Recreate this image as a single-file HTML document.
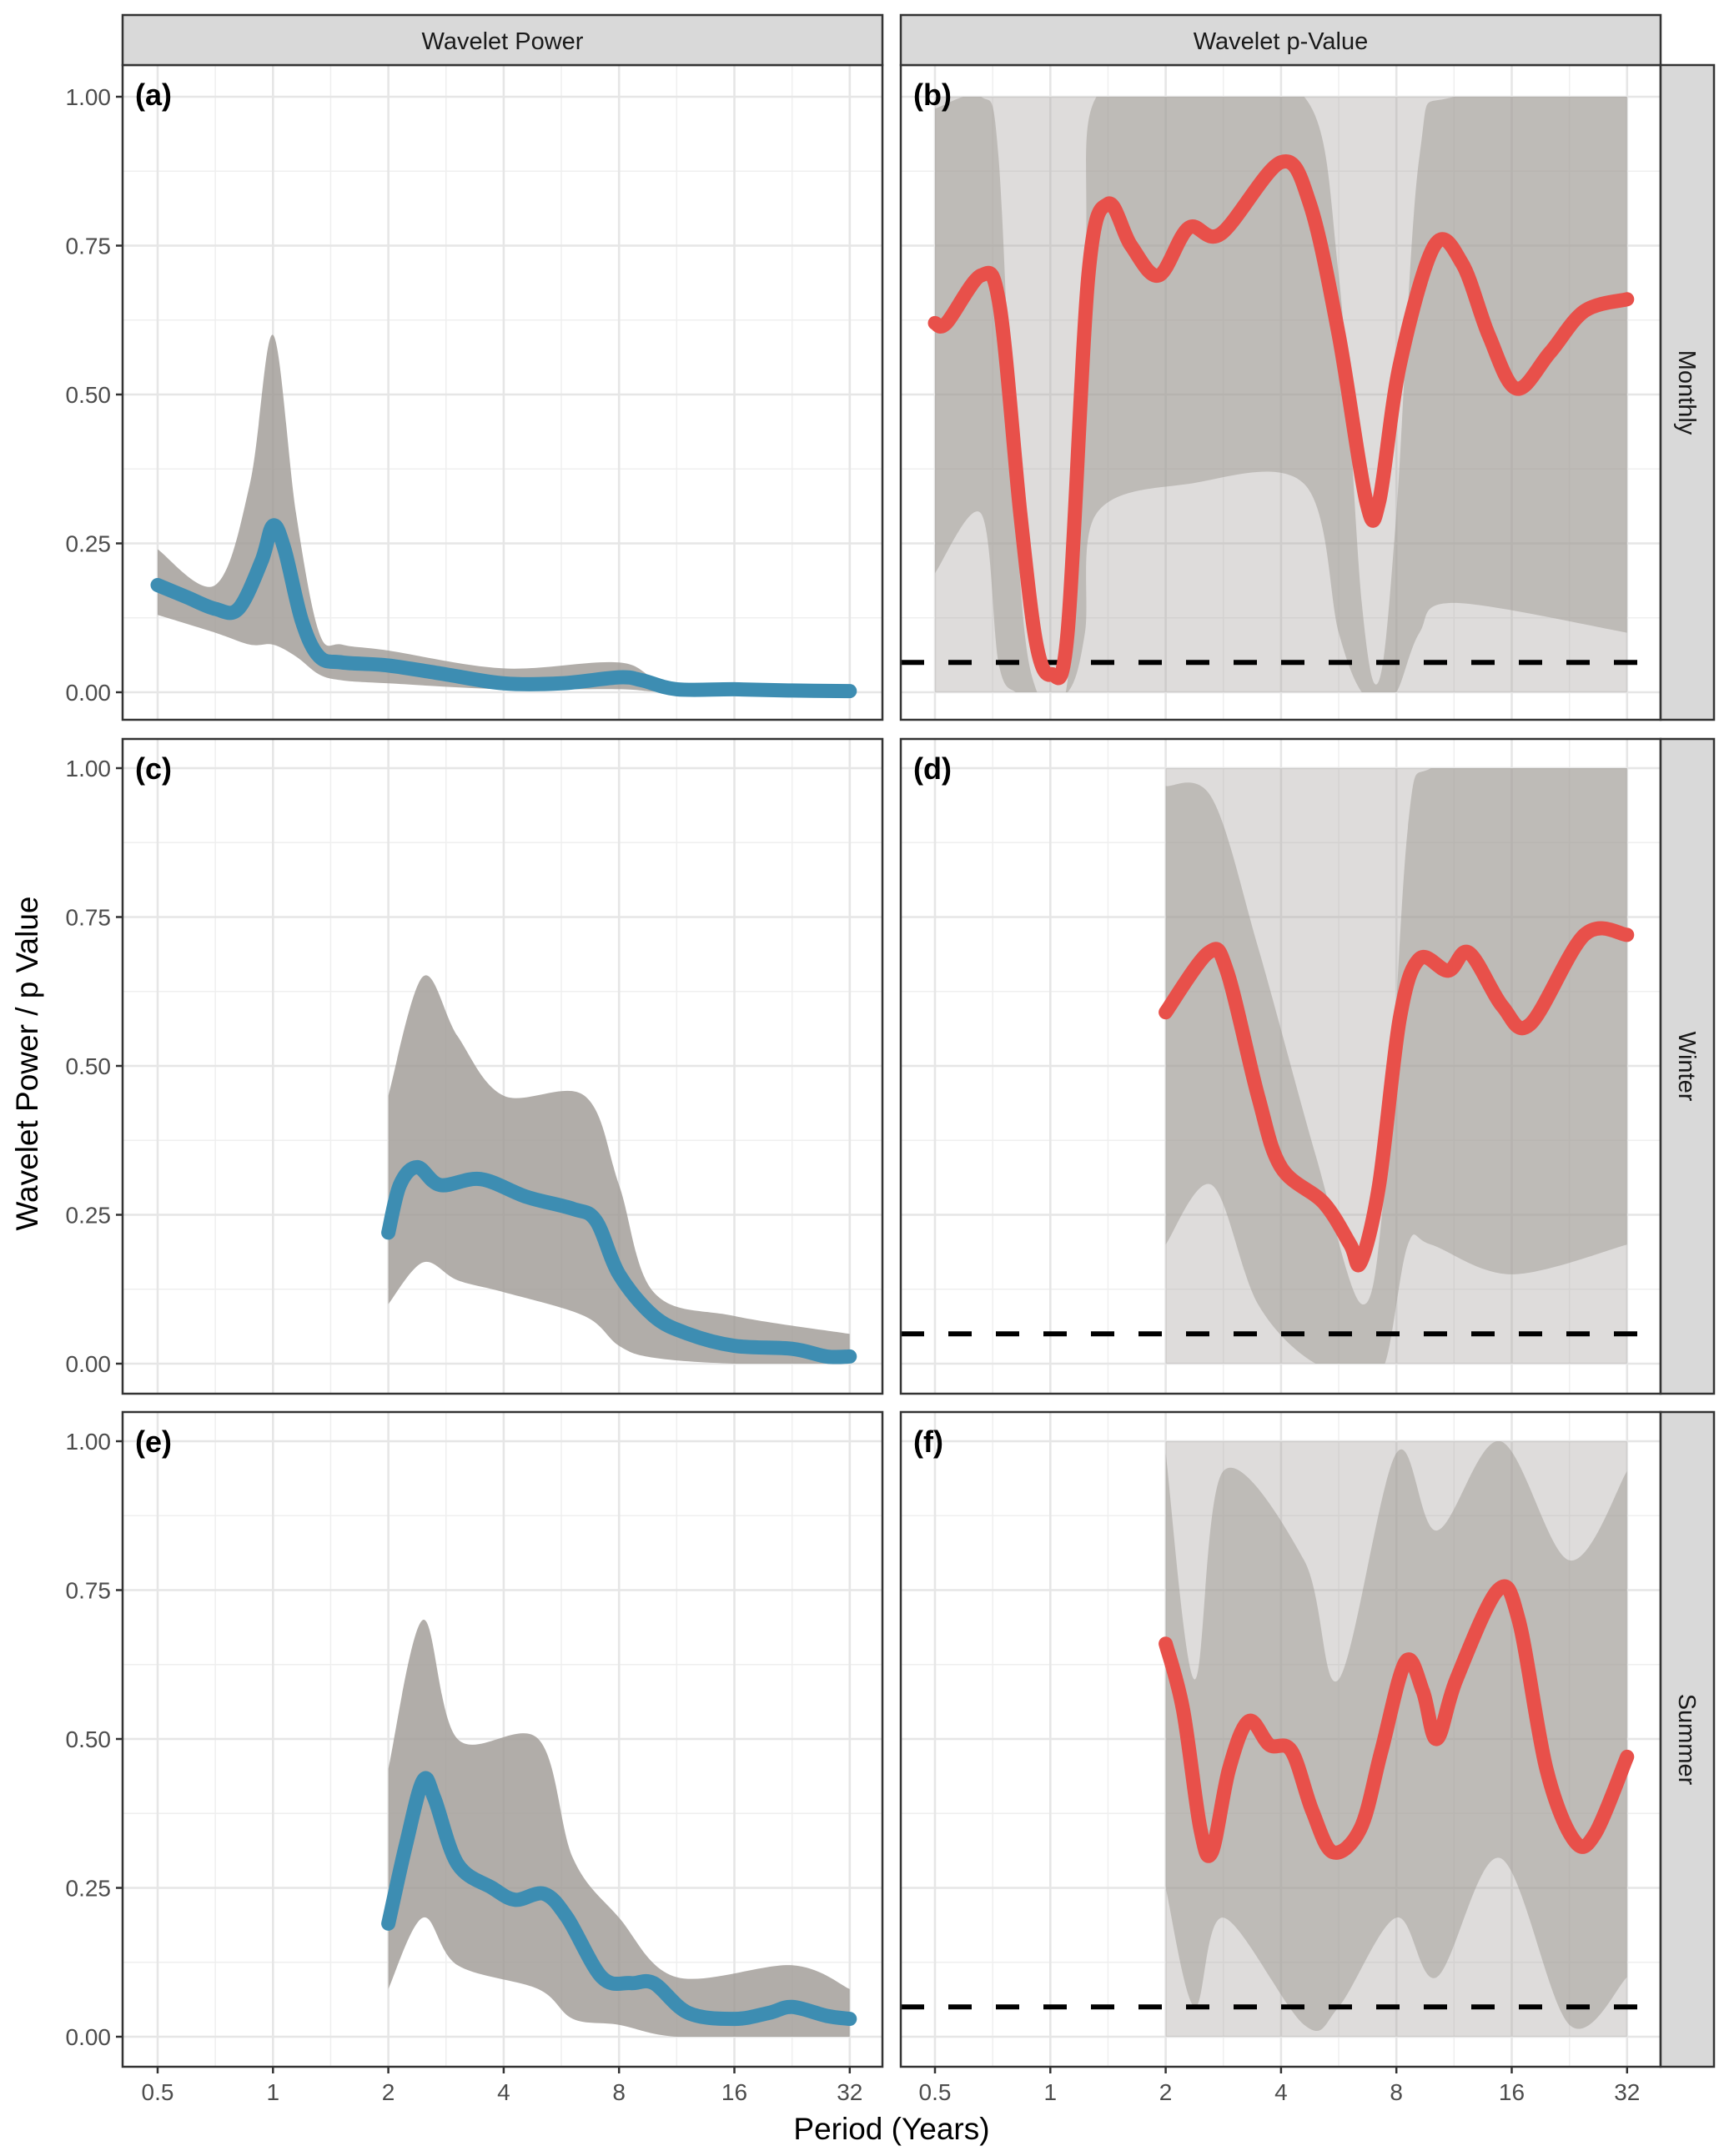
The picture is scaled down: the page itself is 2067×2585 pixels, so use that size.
<!DOCTYPE html>
<html><head><meta charset="utf-8"><style>
html,body{margin:0;padding:0;background:#fff}
svg{display:block}
text{font-family:"Liberation Sans",Arial,sans-serif}
</style></head><body>
<svg id="chart" xmlns="http://www.w3.org/2000/svg" width="2067" height="2585" viewBox="0 0 2067 2585">
<rect width="2067" height="2585" fill="#fff"/>
</svg>
<script>
// ---- data (x in log2 years) ----
const xTickLabels = ["0.5","1","2","4","8","16","32"];
const yTickLabels = ["0.00","0.25","0.50","0.75","1.00"];
const colTitles = ["Wavelet Power","Wavelet p-Value"];
const rowTitles = ["Monthly","Winter","Summer"];
const panelLabels = ["(a)","(b)","(c)","(d)","(e)","(f)"];
const sigLevel = 0.05;

const aX = [-1,-0.75,-0.5,-0.3,-0.1,0,0.1,0.25,0.4,0.6,1,1.5,2,2.5,3,3.2,3.5,4,4.5,5];
const aY = [0.18,0.16,0.14,0.14,0.22,0.28,0.24,0.12,0.06,0.05,0.045,0.03,0.015,0.015,0.025,0.02,0.005,0.005,0.003,0.002];
const bX = [-1,-0.9,-0.6,-0.44,-0.26,-0.12,0.01,0.15,0.33,0.5,0.7,0.94,1.2,1.48,2,2.25,2.5,2.74,2.85,3.03,3.33,3.57,3.8,4.04,4.33,4.63,5];
const bY = [0.62,0.62,0.70,0.65,0.30,0.08,0.03,0.10,0.70,0.82,0.75,0.70,0.78,0.77,0.89,0.82,0.60,0.32,0.32,0.55,0.75,0.72,0.60,0.51,0.57,0.64,0.66];
const cX = [1,1.1,1.25,1.45,1.8,2.2,2.6,2.8,3.0,3.3,3.6,4,4.5,4.8,5];
const cY = [0.22,0.30,0.33,0.30,0.31,0.28,0.26,0.24,0.15,0.08,0.05,0.03,0.025,0.012,0.012];
const dX = [1,1.37,1.53,1.8,2,2.37,2.6,2.69,2.85,3.03,3.2,3.45,3.63,3.92,4.16,4.63,5];
const dY = [0.59,0.69,0.66,0.45,0.33,0.27,0.20,0.17,0.30,0.58,0.68,0.66,0.69,0.60,0.57,0.72,0.72];
const eX = [1,1.15,1.3,1.4,1.6,1.9,2.1,2.35,2.55,2.85,3.1,3.3,3.6,4,4.3,4.5,4.8,5];
const eY = [0.19,0.32,0.43,0.40,0.29,0.25,0.23,0.24,0.20,0.10,0.09,0.09,0.04,0.03,0.04,0.05,0.035,0.03];
const fX = [1,1.15,1.3,1.4,1.55,1.72,1.9,2.09,2.27,2.45,2.69,2.87,3.08,3.23,3.35,3.52,3.88,4.06,4.3,4.54,4.72,5];
const fY = [0.66,0.55,0.35,0.31,0.45,0.53,0.49,0.48,0.38,0.31,0.35,0.48,0.63,0.58,0.50,0.60,0.75,0.70,0.45,0.33,0.34,0.47];

// ensemble envelopes (dense core of simulated curves)
const aEnvX = [-1,-0.5,-0.2,0,0.2,0.4,0.6,1,2,3,3.5,5];
const aHi = [0.24,0.18,0.35,0.6,0.3,0.1,0.08,0.07,0.04,0.05,0.015,0.01];
const aLo = [0.13,0.1,0.08,0.08,0.06,0.03,0.02,0.015,0.005,0.005,0,0];
const bEnvX = [-1,-0.6,-0.45,-0.3,-0.15,0.15,0.3,0.4,1.2,2.2,2.5,2.7,2.85,3.0,3.2,3.5,5];
const bHi = [0.98,1,0.9,0.3,0.02,0.02,0.7,1,1,1,0.7,0.15,0.02,0.3,0.9,1,1];
const bLo = [0.2,0.3,0.05,0,0,0,0.1,0.3,0.35,0.35,0.1,0,0,0,0.1,0.15,0.1];
const cEnvX = [1,1.3,1.6,2,2.7,3.0,3.3,4,5];
const cHi = [0.45,0.65,0.55,0.45,0.45,0.3,0.12,0.08,0.05];
const cLo = [0.1,0.17,0.14,0.12,0.08,0.03,0.01,0,0];
const dEnvX = [1,1.4,1.8,2.3,2.7,2.9,3.1,3.3,4,5];
const dHi = [0.97,0.95,0.7,0.35,0.1,0.3,0.9,1,1,1];
const dLo = [0.2,0.3,0.1,0,0,0,0.2,0.2,0.15,0.2];
const eEnvX = [1,1.3,1.6,2.3,2.6,3,3.5,4.5,5];
const eHi = [0.45,0.7,0.5,0.5,0.3,0.2,0.1,0.12,0.08];
const eLo = [0.08,0.2,0.12,0.08,0.03,0.02,0,0,0];
const fEnvX = [1,1.25,1.5,2.2,2.5,3,3.35,3.9,4.5,5];
const fHi = [0.98,0.6,0.95,0.8,0.6,0.98,0.85,1,0.8,0.95];
const fLo = [0.25,0.05,0.2,0.02,0.05,0.2,0.1,0.3,0.02,0.1];

const NS = "http://www.w3.org/2000/svg";
const svg = document.getElementById("chart");
function mk(tag, attrs, parent){ const e=document.createElementNS(NS,tag); for(const k in attrs) e.setAttribute(k,attrs[k]); (parent||svg).appendChild(e); return e; }

const colL = [147,1080], colW = 911;
const rowT = [78,886,1693], rowH = 785;
const yTop = [116,921,1728], yBot = [830,1635,2442];
const x0 = [189,1121], oct = 138.3;

function smooth(pts){
  let d = "M"+pts[0][0]+","+pts[0][1];
  for(let i=0;i<pts.length-1;i++){
    const p0=pts[Math.max(0,i-1)],p1=pts[i],p2=pts[i+1],p3=pts[Math.min(pts.length-1,i+2)];
    const c1=[p1[0]+(p2[0]-p0[0])/6,p1[1]+(p2[1]-p0[1])/6];
    const c2=[p2[0]-(p3[0]-p1[0])/6,p2[1]-(p3[1]-p1[1])/6];
    d+=" C"+c1[0].toFixed(1)+","+c1[1].toFixed(1)+" "+c2[0].toFixed(1)+","+c2[1].toFixed(1)+" "+p2[0].toFixed(1)+","+p2[1].toFixed(1);
  }
  return d;
}

const defs = mk("defs",{});
const panels = [
  {r:0,c:0,x:aX,y:aY,ex:aEnvX,hi:aHi,lo:aLo,col:"#3d8db2",name:"power-monthly",light:false},
  {r:0,c:1,x:bX,y:bY,ex:bEnvX,hi:bHi,lo:bLo,col:"#e8504a",name:"pvalue-monthly",light:true,lx:[-1,5]},
  {r:1,c:0,x:cX,y:cY,ex:cEnvX,hi:cHi,lo:cLo,col:"#3d8db2",name:"power-winter",light:false},
  {r:1,c:1,x:dX,y:dY,ex:dEnvX,hi:dHi,lo:dLo,col:"#e8504a",name:"pvalue-winter",light:true,lx:[1,5]},
  {r:2,c:0,x:eX,y:eY,ex:eEnvX,hi:eHi,lo:eLo,col:"#3d8db2",name:"power-summer",light:false},
  {r:2,c:1,x:fX,y:fY,ex:fEnvX,hi:fHi,lo:fLo,col:"#e8504a",name:"pvalue-summer",light:true,lx:[1,5]},
];

panels.forEach((p,i)=>{
  const L=colL[p.c], T=rowT[p.r];
  const sx = v => x0[p.c] + (v+1)*oct;
  const sy = v => yBot[p.r] - v*(yBot[p.r]-yTop[p.r]);
  const cp = mk("clipPath",{id:"clip"+i},defs);
  mk("rect",{x:sx(p.ex[0]),y:sy(1),width:sx(p.ex[p.ex.length-1])-sx(p.ex[0]),height:sy(0)-sy(1)},cp);
  const g = mk("g",{});
  
  
  for(let k=0;k<4;k++){ const v=0.125+0.25*k; mk("line",{x1:L,x2:L+colW,y1:sy(v),y2:sy(v),stroke:"#efefef","stroke-width":1.5},g); }
  for(let k=0;k<6;k++){ const v=-0.5+k; mk("line",{x1:sx(v),x2:sx(v),y1:T,y2:T+rowH,stroke:"#efefef","stroke-width":1.5},g); }
  yTickLabels.forEach((t,k)=>{ mk("line",{x1:L,x2:L+colW,y1:sy(k*0.25),y2:sy(k*0.25),stroke:"#e6e6e6","stroke-width":2.6},g); });
  xTickLabels.forEach((t,k)=>{ mk("line",{x1:sx(k-1),x2:sx(k-1),y1:T,y2:T+rowH,stroke:"#e6e6e6","stroke-width":2.6},g); });
  if(p.light){
    const lr = mk("rect",{x:sx(p.lx[0]),y:sy(1),width:sx(p.lx[1])-sx(p.lx[0]),height:sy(0)-sy(1),fill:"#a8a4a0","fill-opacity":0.38},g);
    
    
  }
  const up = p.ex.map((v,k)=>[sx(v),sy(p.hi[k])]);
  const dn = p.ex.map((v,k)=>[sx(v),sy(p.lo[k])]).reverse();
  const band = mk("path",{d:smooth(up)+" L"+dn[0][0]+","+dn[0][1]+" "+smooth(dn).slice(1)+" Z",fill:"#9e9994","fill-opacity":p.light?0.5:0.8,"clip-path":"url(#clip"+i+")"},g);
  
  
  if(p.c===1){
    const sl = mk("line",{x1:L,x2:L+colW,y1:sy(sigLevel),y2:sy(sigLevel),stroke:"#000","stroke-width":6,"stroke-dasharray":"28 29"},g);
    
    
  }
  const ln = mk("path",{d:smooth(p.x.map((v,k)=>[sx(v),sy(p.y[k])])),fill:"none",stroke:p.col,"stroke-width":17,"stroke-linecap":"round","stroke-linejoin":"round"},g);
  
  
  mk("rect",{x:L,y:T,width:colW,height:rowH,fill:"none",stroke:"#333","stroke-width":2.5},g);
  const lab = mk("text",{x:L+15,y:T+48,"font-size":36,"font-weight":"bold",fill:"#000"},g);
  lab.textContent = panelLabels[i];
  
  
  if(p.c===0){
    yTickLabels.forEach((t,k)=>{
      mk("line",{x1:L-8,x2:L,y1:sy(k*0.25),y2:sy(k*0.25),stroke:"#333","stroke-width":2.5},g);
      const tt = mk("text",{x:L-14,y:sy(k*0.25)+10,"font-size":28,fill:"#4d4d4d","text-anchor":"end"},g);
      tt.textContent=t;
      
      
    });
  }
  if(p.r===2){
    xTickLabels.forEach((t,k)=>{
      mk("line",{x1:sx(k-1),x2:sx(k-1),y1:T+rowH,y2:T+rowH+8,stroke:"#333","stroke-width":2.5},g);
      const tt = mk("text",{x:sx(k-1),y:2518,"font-size":28,fill:"#4d4d4d","text-anchor":"middle"},g);
      tt.textContent=t;
      
      
    });
  }
});

colTitles.forEach((t,c)=>{
  const s = mk("rect",{x:colL[c],y:18,width:colW,height:60,fill:"#d9d9d9",stroke:"#333","stroke-width":2.5});
  
  
  const tx = mk("text",{x:colL[c]+colW/2,y:59,"font-size":29,fill:"#1a1a1a","text-anchor":"middle"});
  tx.textContent=t;
  
  
});
rowTitles.forEach((t,r)=>{
  const s = mk("rect",{x:1991,y:rowT[r],width:64,height:rowH,fill:"#d9d9d9",stroke:"#333","stroke-width":2.5});
  
  
  const cy=rowT[r]+rowH/2;
  const tx = mk("text",{x:2023,y:cy,"font-size":29,fill:"#1a1a1a","text-anchor":"middle",transform:"rotate(90 2023 "+cy+") translate(0 10)"});
  tx.textContent=t;
  
  
});
const xt = mk("text",{x:1069,y:2565,"font-size":37,fill:"#000","text-anchor":"middle"});
xt.textContent="Period (Years)";


const yt = mk("text",{x:45,y:1275,"font-size":37,fill:"#000","text-anchor":"middle",transform:"rotate(-90 45 1275)"});
yt.textContent="Wavelet Power / p Value";


</script>
</body></html>
